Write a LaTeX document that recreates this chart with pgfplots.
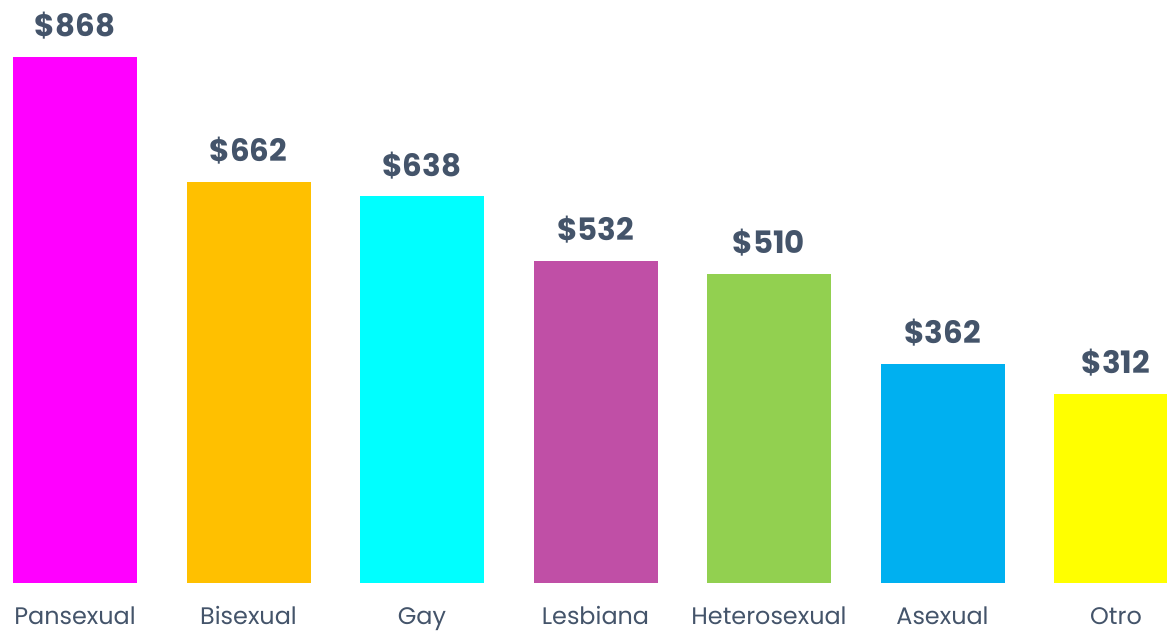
\documentclass[border=0pt]{standalone}
\usepackage{pgfplots}
\pgfplotsset{compat=1.18}
\usepackage{fontspec}
\setmainfont{Poppins}
\definecolor{lab}{HTML}{44546A}
\definecolor{c1}{HTML}{FF00FF}
\definecolor{c2}{HTML}{FFC000}
\definecolor{c3}{HTML}{00FFFF}
\definecolor{c4}{HTML}{C04FA6}
\definecolor{c5}{HTML}{92D050}
\definecolor{c6}{HTML}{00B0F0}
\definecolor{c7}{HTML}{FFFF00}
\begin{document}
\begin{tikzpicture}
\begin{axis}[
  at={(0,0)}, anchor=south west,
  scale only axis, width=1167bp, height=583bp,
  xmin=-0.4323, xmax=6.2939, ymin=0, ymax=962.05,
  ybar, bar width=124bp, bar shift=0pt,
  axis line style={draw=none}, tick style={draw=none},
  ytick=\empty,
  xtick={0,1,2,3,4,5,6},
  xticklabels={Pansexual,Bisexual,Gay,Lesbiana,Heterosexual,Asexual,Otro},
  xticklabel style={anchor=base, yshift=-37bp, font=\fontsize{24}{29}\selectfont, text=lab, inner sep=0pt},
  /pgf/number format/assume math mode=true,
  nodes near coords={\$\pgfmathprintnumber{\pgfplotspointmeta}},
  nodes near coords align={anchor=base},
  every node near coord/.append style={anchor=base, yshift=20bp, inner sep=0pt, font=\fontsize{31}{37}\selectfont\bfseries, text=lab},
]
\addplot[fill=c1, draw=none] coordinates {(0,868)};
\addplot[fill=c2, draw=none] coordinates {(1,662)};
\addplot[fill=c3, draw=none] coordinates {(2,638)};
\addplot[fill=c4, draw=none] coordinates {(3,532)};
\addplot[fill=c5, draw=none] coordinates {(4,510)};
\addplot[fill=c6, draw=none] coordinates {(5,362)};
\addplot[fill=c7, draw=none] coordinates {(6,312)};
\end{axis}
\pgfresetboundingbox
\path (0,-48bp) rectangle (1167bp,583bp);
\end{tikzpicture}
\end{document}
